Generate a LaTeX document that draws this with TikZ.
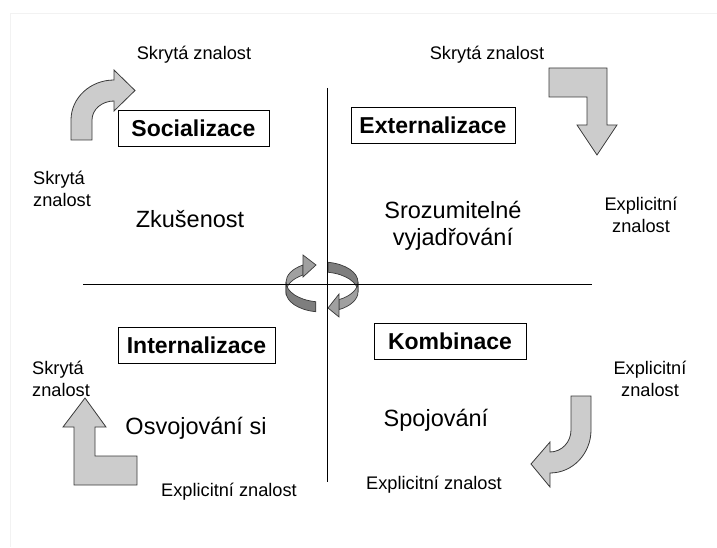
\documentclass[tikz,border=0pt]{standalone}
\usepackage{fontspec}
\setmainfont{Liberation Sans}
\definecolor{arrowfill}{HTML}{CCCCCC}
\definecolor{arrowline}{HTML}{3A3A3A}
\definecolor{ringdark}{HTML}{7E7E7E}
\definecolor{ringlight}{HTML}{A0A0A0}
\definecolor{framegray}{HTML}{F2F2F2}
\begin{document}
\begin{tikzpicture}[x=1pt,y=1pt,
  small/.style={font=\fontsize{18.2}{22}\selectfont, inner sep=0pt},
  big/.style={font=\fontsize{23.5}{27}\selectfont, inner sep=0pt},
  boxlbl/.style={draw=black, line width=0.8pt, fill=white, font=\bfseries\fontsize{23}{27}\selectfont, inner sep=0pt},
  fat/.style={fill=arrowfill, draw=arrowline, line width=0.8pt, line join=miter},
  ringback/.style={fill=ringlight, draw=arrowline, line width=0.7pt},
  ringfront/.style={fill=ringdark, draw=arrowline, line width=0.7pt},
  axis/.style={draw=black, line width=0.8pt},
  ell/.style={x radius=36, y radius=20}
]
\useasboundingbox (0,0) rectangle (717,547);
% faint frame
\draw[framegray, line width=1pt] (10,0) -- (10,533) -- (717,533);

% central rotating arrows
% left arrow
\fill[ringback] (302.92,281.96) arc[start angle=122,end angle=180,ell] -- (286,255) arc[start angle=180,end angle=122,ell] -- cycle;
\fill[ringfront] (286,265) arc[start angle=180,end angle=260,ell] -- (315.75,235.30) arc[start angle=260,end angle=180,ell] -- cycle;
\fill[ringback] (303,292) -- (316,282) -- (303,270) -- cycle;
% right arrow
\fill[ringfront] (328.25,284.70) arc[start angle=80,end angle=0,ell] -- (358,255) arc[start angle=0,end angle=80,ell] -- cycle;
\fill[ringback] (358,265) arc[start angle=0,end angle=-62,ell] -- (338.90,237.34) arc[start angle=-62,end angle=0,ell] -- cycle;
\fill[ringback] (339,253) -- (328,239) -- (339,230) -- cycle;

% axes
\coordinate (hl) at (83,263);
\coordinate (hr) at (592,263);
\coordinate (vt) at (327,459);
\coordinate (vb) at (327,65);
\draw[axis] (hl) -- (hr);
\draw[axis] (vt) -- (vb);

% corner arrows
\draw[fat] (71,407) -- (71,427) arc[start angle=180,end angle=90,x radius=43,y radius=40]
  -- (114,477) -- (135,456.5) -- (114,436) -- (114,446)
  arc[start angle=90,end angle=180,x radius=22,y radius=19] -- (92,407) -- cycle;
\draw[fat] (549,479) -- (607,479) -- (607,422) -- (617,422) -- (597,392) -- (577,422)
  -- (587,422) -- (587,450) -- (549,450) -- cycle;
\draw[fat] (74,62) -- (137,62) -- (137,91) -- (95,91) -- (95,120) -- (106,120)
  -- (85,149) -- (63,120) -- (74,120) -- cycle;
\draw[fat] (591,151) -- (591,117) arc[start angle=0,end angle=-90,x radius=41,y radius=43]
  -- (550,60) -- (531,83) -- (550,105) -- (550,95)
  arc[start angle=-90,end angle=0,x radius=21,y radius=22] -- (571,151) -- cycle;

% boxes
\node[boxlbl, minimum width=151pt, minimum height=36pt] (soc) at (193.5,419) {Socializace};
\node[boxlbl, minimum width=164pt, minimum height=36pt] (ext) at (433,422) {Externalizace};
\node[boxlbl, minimum width=157pt, minimum height=36pt] (int) at (196.5,202) {Internalizace};
\node[boxlbl, minimum width=152pt, minimum height=36pt] (kom) at (450,206) {Kombinace};

% big texts
\node[big] (zk) at (190,328) {Zkušenost};
\node[big, align=center] (sr) at (453,321) {Srozumitelné\\vyjadřování};
\node[big] (os) at (196,119) {Osvojování si};
\node[big] (sp) at (436,127) {Spojování};

% small labels
\node[small] (s1) at (194,492) {Skrytá znalost};
\node[small] (s2) at (487,492) {Skrytá znalost};
\node[small, align=left, anchor=west] (s3) at (33,358) {Skrytá\\znalost};
\node[small, align=center] (e1) at (641,332) {Explicitní\\znalost};
\node[small, align=left, anchor=west] (s4) at (32,168) {Skrytá\\znalost};
\node[small, align=center] (e2) at (650,168) {Explicitní\\znalost};
\node[small] (e3) at (229,55) {Explicitní znalost};
\node[small] (e4) at (434,62) {Explicitní znalost};
\end{tikzpicture}
\end{document}
